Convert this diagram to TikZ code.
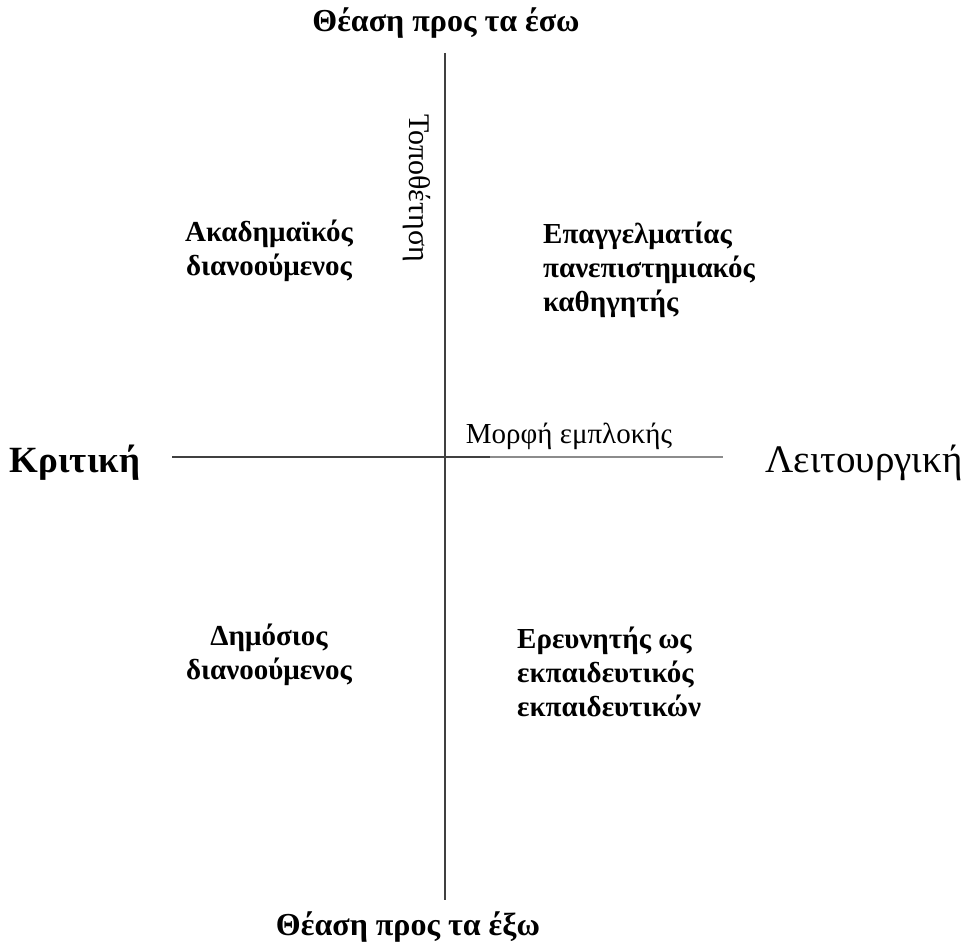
\documentclass[tikz,border=0pt]{standalone}
\usepackage{fontspec}
\setmainfont{Liberation Serif}
\begin{document}
\begin{tikzpicture}[x=1pt,y=-1pt,
  axis/.style={line width=1.4pt,draw=black!75},
  axislight/.style={line width=1.4pt,draw=black!45},
  pole/.style={font=\fontsize{32}{36}\selectfont\bfseries,inner sep=0pt},
  side/.style={font=\fontsize{39}{44}\selectfont,inner sep=0pt},
  sidebold/.style={font=\fontsize{37}{42}\selectfont\bfseries,inner sep=0pt},
  quad/.style={font=\fontsize{29}{34}\selectfont\bfseries,inner sep=0pt},
  axlabel/.style={font=\fontsize{29}{32}\selectfont,inner sep=0pt}]
\useasboundingbox (0,0) rectangle (967,944);
\coordinate (top) at (445,53);
\coordinate (bot) at (445,900);
\coordinate (left) at (172,457);
\coordinate (mid) at (490,457);
\coordinate (right) at (723,457);
\draw[axis] (top) -- (bot);
\draw[axis] (left) -- (mid);
\draw[axislight] (mid) -- (right);
\node[pole] (inward) at (446,23) {Θέαση προς τα έσω};
\node[pole] (outward) at (408,927) {Θέαση προς τα έξω};
\node[sidebold] (crit) at (75,463) {Κριτική};
\node[side] (func) at (864,463) {Λειτουργική};
\node[axlabel] (morfi) at (569,436) {Μορφή εμπλοκής};
\node[axlabel,font=\fontsize{30}{32}\selectfont,rotate=-90] (topo) at (417,188) {Τοποθέτηση};
\node[quad,align=center] (acad) at (269,251) {Ακαδημαϊκός\\διανοούμενος};
\node[quad,align=center] (public) at (269,655) {Δημόσιος\\διανοούμενος};
\node[quad,align=left,anchor=west] (prof) at (543,270) {Επαγγελματίας\\πανεπιστημιακός\\καθηγητής};
\node[quad,align=left,anchor=west] (res) at (517,672) {Ερευνητής ως\\εκπαιδευτικός\\εκπαιδευτικών};
\end{tikzpicture}
\end{document}
